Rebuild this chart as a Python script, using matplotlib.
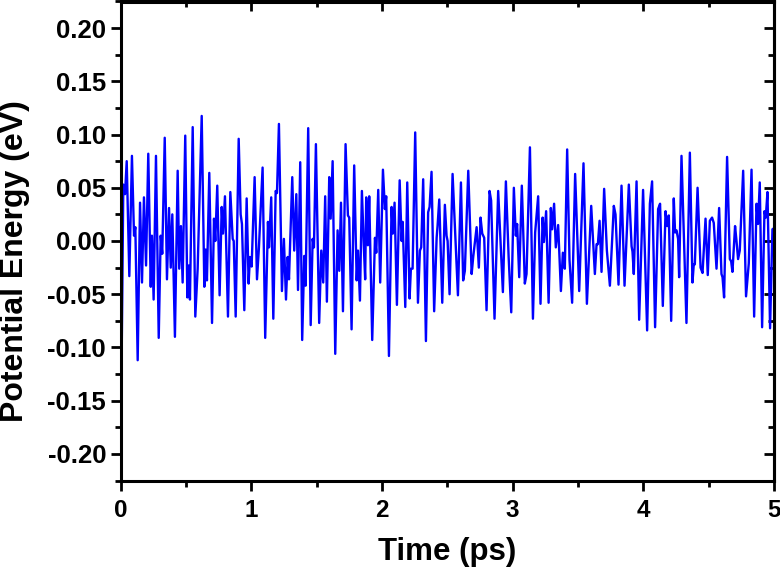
import matplotlib
matplotlib.use("Agg")
import matplotlib.pyplot as plt
from matplotlib.ticker import MultipleLocator

plt.rcParams['font.family'] = ['Liberation Sans', 'DejaVu Sans']
plt.rcParams['font.weight'] = 'bold'

time_ps = [
    0.000, 0.020, 0.033, 0.046, 0.066, 0.086, 0.102, 0.112, 0.130, 0.148,
    0.163, 0.178, 0.194, 0.211, 0.230, 0.239, 0.252, 0.270, 0.291, 0.306,
    0.318, 0.337, 0.354, 0.370, 0.383, 0.395, 0.415, 0.436, 0.448, 0.461,
    0.474, 0.494, 0.510, 0.520, 0.530, 0.551, 0.571, 0.589, 0.620, 0.640,
    0.650, 0.660, 0.678, 0.699, 0.714, 0.724, 0.739, 0.757, 0.773, 0.783,
    0.798, 0.821, 0.839, 0.857, 0.865, 0.880, 0.903, 0.918, 0.928, 0.946,
    0.964, 0.979, 0.989, 1.002, 1.025, 1.043, 1.058, 1.086, 1.106, 1.127,
    1.135, 1.152, 1.168, 1.186, 1.196, 1.211, 1.234, 1.249, 1.265, 1.278,
    1.288, 1.313, 1.328, 1.344, 1.357, 1.374, 1.389, 1.405, 1.415, 1.435,
    1.454, 1.469, 1.479, 1.494, 1.519, 1.535, 1.550, 1.565, 1.578, 1.596,
    1.607, 1.622, 1.642, 1.660, 1.673, 1.686, 1.701, 1.721, 1.739, 1.749,
    1.767, 1.787, 1.806, 1.816, 1.831, 1.846, 1.861, 1.871, 1.879, 1.892,
    1.902, 1.925, 1.946, 1.956, 1.971, 1.986, 2.007, 2.022, 2.032, 2.053,
    2.073, 2.083, 2.096, 2.114, 2.135, 2.150, 2.158, 2.178, 2.193, 2.211,
    2.221, 2.234, 2.254, 2.275, 2.290, 2.300, 2.315, 2.336, 2.353, 2.364,
    2.379, 2.399, 2.418, 2.425, 2.438, 2.461, 2.481, 2.494, 2.502, 2.517,
    2.540, 2.581, 2.604, 2.621, 2.634, 2.660, 2.686, 2.698, 2.724, 2.741,
    2.754, 2.767, 2.782, 2.800, 2.823, 2.835, 2.861, 2.889, 2.925, 2.948,
    2.969, 2.989, 3.009, 3.024, 3.034, 3.050, 3.070, 3.093, 3.106, 3.132,
    3.155, 3.172, 3.195, 3.213, 3.229, 3.239, 3.256, 3.275, 3.292, 3.302,
    3.317, 3.330, 3.348, 3.369, 3.384, 3.399, 3.417, 3.435, 3.455, 3.478,
    3.509, 3.542, 3.568, 3.601, 3.629, 3.642, 3.652, 3.665, 3.680, 3.700,
    3.721, 3.744, 3.774, 3.787, 3.810, 3.833, 3.856, 3.889, 3.910, 3.917,
    3.927, 3.948, 3.968, 3.998, 4.029, 4.050, 4.067, 4.090, 4.113, 4.128,
    4.149, 4.170, 4.182, 4.195, 4.213, 4.233, 4.243, 4.254, 4.266, 4.274,
    4.292, 4.330, 4.356, 4.376, 4.386, 4.394, 4.415, 4.438, 4.453, 4.476,
    4.493, 4.509, 4.526, 4.539, 4.560, 4.580, 4.598, 4.606, 4.618, 4.641,
    4.662, 4.672, 4.682, 4.702, 4.713, 4.725, 4.738, 4.764, 4.786, 4.807,
    4.828, 4.848, 4.866, 4.878, 4.891, 4.909, 4.927, 4.937, 4.950, 4.970,
    4.988, 5.000,
]

energy_ev = [
    -0.205, 0.053, 0.044, 0.075, -0.033, 0.080, 0.005, 0.013, -0.112, 0.036,
    -0.039, 0.041, -0.023, 0.082, -0.043, 0.005, -0.055, 0.080, -0.091, 0.005,
    -0.012, 0.097, -0.036, 0.031, -0.025, 0.025, -0.090, 0.066, -0.026, 0.014,
    -0.039, 0.099, -0.053, -0.023, -0.055, 0.107, -0.071, -0.026, 0.1175, -0.043,
    -0.008, -0.037, 0.064, -0.077, 0.021, 0.000, 0.052, -0.051, 0.032, 0.007,
    0.042, -0.071, 0.046, 0.002, 0.000, -0.071, 0.096, 0.025, 0.016, -0.065,
    0.040, -0.040, -0.015, -0.024, 0.060, -0.036, -0.006, 0.069, -0.091, 0.018,
    -0.006, 0.041, -0.073, 0.047, 0.045, 0.110, -0.047, 0.002, -0.055, -0.015,
    -0.036, 0.060, -0.009, 0.044, -0.046, 0.074, -0.093, -0.014, -0.042, 0.106,
    -0.079, 0.002, -0.006, 0.091, -0.077, -0.009, -0.039, 0.042, -0.057, 0.060,
    0.021, 0.075, -0.106, 0.010, -0.028, 0.036, -0.066, 0.091, 0.024, 0.022,
    -0.083, 0.071, -0.037, -0.009, -0.056, 0.047, -0.006, -0.036, 0.041, -0.004,
    0.042, -0.093, 0.003, -0.011, 0.048, -0.039, 0.067, 0.030, 0.042, -0.108,
    0.032, 0.007, 0.036, -0.060, 0.057, 0.000, 0.018, -0.062, 0.055, -0.054,
    -0.026, -0.026, 0.102, -0.058, -0.009, -0.006, 0.058, -0.094, 0.027, 0.032,
    0.065, -0.066, 0.003, 0.014, 0.039, -0.058, 0.034, 0.005, 0.000, -0.050,
    0.063, -0.051, 0.055, -0.037, -0.028, 0.066, -0.031, -0.015, 0.013, -0.025,
    0.022, 0.007, 0.003, -0.065, 0.047, 0.038, -0.073, 0.047, -0.048, 0.056,
    -0.015, -0.067, 0.050, 0.005, 0.016, -0.034, 0.052, -0.040, -0.031, 0.088,
    -0.073, 0.008, 0.042, -0.059, 0.022, -0.001, 0.028, -0.058, 0.031, 0.011,
    0.035, -0.006, 0.015, -0.047, -0.011, -0.026, 0.086, -0.018, -0.058, 0.063,
    -0.047, 0.073, -0.059, 0.033, -0.031, -0.003, -0.003, 0.019, -0.029, 0.049,
    -0.009, -0.042, 0.033, 0.025, -0.041, 0.052, -0.042, 0.053, -0.005, -0.010,
    -0.031, 0.056, -0.074, 0.048, -0.084, 0.035, 0.056, -0.081, 0.030, 0.035,
    -0.061, 0.028, 0.014, 0.024, -0.075, 0.040, 0.008, 0.010, 0.002, -0.034,
    0.080, -0.077, 0.083, -0.039, -0.022, -0.022, 0.050, -0.025, -0.030, 0.021,
    -0.032, 0.019, 0.022, 0.017, -0.026, 0.031, -0.031, -0.034, -0.053, 0.079,
    -0.017, -0.019, -0.029, 0.014, 0.000, -0.017, -0.009, 0.066, -0.052, -0.021,
    0.067, -0.071, 0.035, 0.016, 0.055, -0.081, 0.028, 0.022, 0.046, -0.082,
    0.011, 0.012,
]

x_ticks = [0, 1, 2, 3, 4, 5]
y_ticks = [-0.20, -0.15, -0.10, -0.05, 0.00, 0.05, 0.10, 0.15, 0.20]

W, H = 780, 569
fig = plt.figure(figsize=(W / 100, H / 100), dpi=100)
ax = fig.add_axes([120.7 / W, 1 - 480.5 / H, (774 - 120.7) / W, 479 / H])
ax.plot(time_ps, energy_ev, color='#0000ff', linewidth=1.7)

ax.set_xlim(0, 5)
ax.set_ylim(-0.225, 0.225)
ax.set_xticks(x_ticks)
ax.set_xticklabels([str(v) for v in x_ticks])
ax.set_yticks(y_ticks)
ax.set_yticklabels([f"{v:.2f}" for v in y_ticks])
ax.xaxis.set_minor_locator(MultipleLocator(0.5))
ax.yaxis.set_minor_locator(MultipleLocator(0.025))

for s in ax.spines.values():
    s.set_linewidth(2.2)

ax.tick_params(axis='both', which='major', direction='out', length=7, width=2.0)
ax.tick_params(axis='both', which='minor', direction='out', length=4, width=2.0)
ax.tick_params(axis='y', which='major', labelsize=18.5, pad=3.5)
ax.tick_params(axis='x', which='major', labelsize=17.5, pad=6)
for lbl in ax.get_xticklabels() + ax.get_yticklabels():
    lbl.set_fontweight('bold')

# mirrored inward ticks on the top and right
axt = ax.secondary_xaxis('top')
axt.set_xticks(x_ticks)
axt.xaxis.set_minor_locator(MultipleLocator(0.5))
axt.tick_params(which='major', direction='in', length=7, width=2.0, labeltop=False)
axt.tick_params(which='minor', direction='in', length=4, width=2.0)
axt.spines['top'].set_linewidth(2.2)
axr = ax.secondary_yaxis('right')
axr.set_yticks(y_ticks)
axr.yaxis.set_minor_locator(MultipleLocator(0.025))
axr.tick_params(which='major', direction='in', length=7, width=2.0, labelright=False)
axr.tick_params(which='minor', direction='in', length=4, width=2.0)
axr.spines['right'].set_linewidth(2.2)

fig.text(447 / W, 1 - 560 / H, 'Time (ps)', fontsize=22.5, fontweight='bold',
         ha='center', va='baseline')
fig.text(15 / W, 1 - 261 / H, 'Potential Energy (eV)', fontsize=23, fontweight='bold',
         ha='center', va='center', rotation=90)

fig.savefig('out.png', dpi=100)
